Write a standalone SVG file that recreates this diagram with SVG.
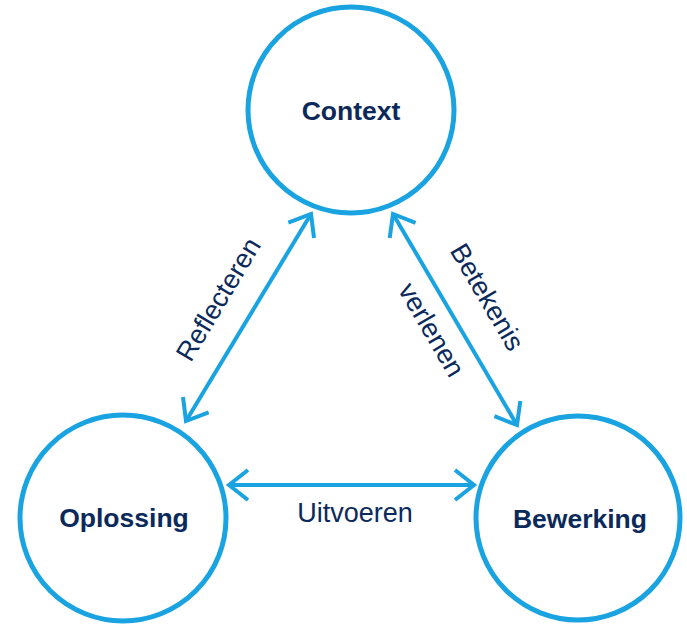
<svg xmlns="http://www.w3.org/2000/svg" width="687" height="625" viewBox="0 0 687 625">
<style>
.node{fill:#fff;stroke:#1aa3e1;stroke-width:5}
.lbl{font-family:"Liberation Sans",Arial,sans-serif;font-weight:bold;font-size:26.5px;fill:#0b2a5b;text-anchor:middle}
.edge{stroke:#1aa3e1;stroke-width:4;fill:none;marker-start:url(#ah);marker-end:url(#ah)}
.elbl{font-family:"Liberation Sans",Arial,sans-serif;font-size:27px;fill:#0b2a5b;text-anchor:middle}
</style>
<defs>
<marker id="ah" markerUnits="userSpaceOnUse" markerWidth="40" markerHeight="40" viewBox="-25 -20 30 40" refX="0" refY="0" orient="auto-start-reverse" overflow="visible">
<path d="M-19,-15 L0,0 L-19,15" fill="none" stroke="#1aa3e1" stroke-width="4" stroke-linejoin="miter"/>
</marker>
</defs>
<rect width="687" height="625" fill="#fff"/>
<g id="connectors">
<line class="edge" x1="229" y1="485" x2="474" y2="485"/>
<line class="edge" x1="186" y1="421" x2="311" y2="214"/>
<line class="edge" x1="393" y1="214" x2="517" y2="425"/>
<text class="elbl" x="355" y="522">Uitvoeren</text>
<text class="elbl" transform="translate(248.5,317.5) rotate(-59)" x="0" y="-26">Reflecteren</text>
<g transform="translate(455,319.5) rotate(59.6)">
<text class="elbl" x="-3" y="-30">Betekenis</text>
<text class="elbl" x="-3" y="34.5">verlenen</text>
</g>
</g>
<g id="context">
<circle class="node" cx="351" cy="110" r="103"/>
<text class="lbl" x="351" y="120">Context</text>
</g>
<g id="oplossing">
<circle class="node" cx="123" cy="518" r="103"/>
<text class="lbl" x="124" y="527">Oplossing</text>
</g>
<g id="bewerking">
<circle class="node" cx="578" cy="518" r="102"/>
<text class="lbl" x="580" y="528">Bewerking</text>
</g>
</svg>
